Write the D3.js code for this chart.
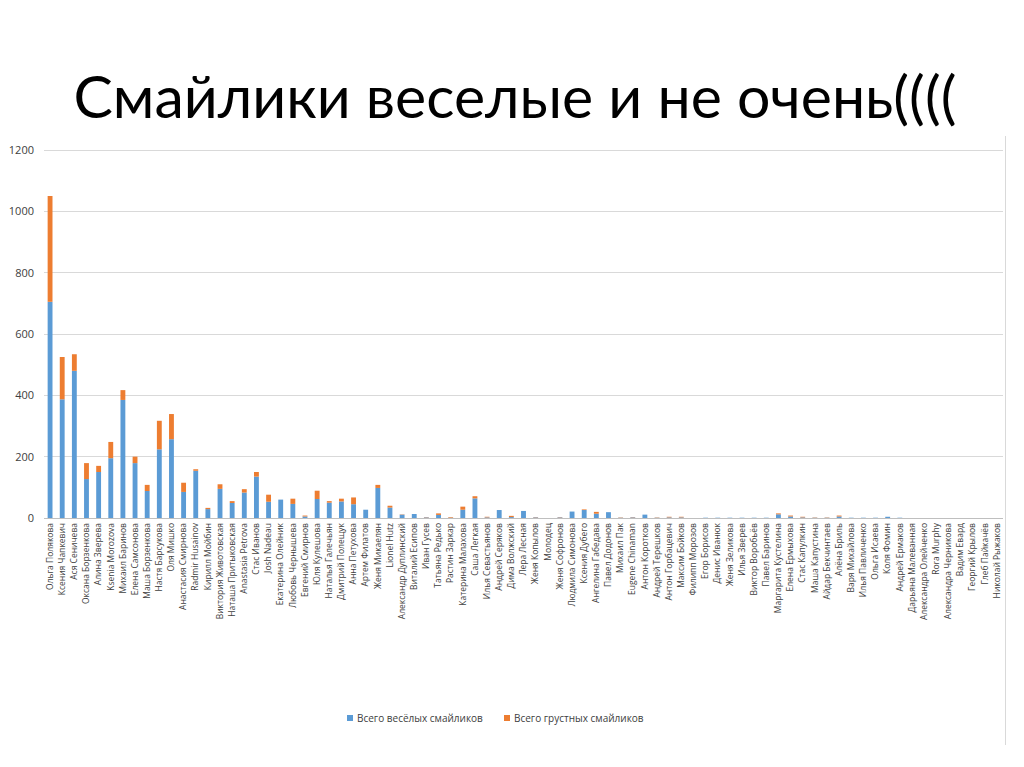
<!DOCTYPE html>
<html><head><meta charset="utf-8">
<script src="https://cdn.jsdelivr.net/npm/d3@7/dist/d3.min.js"></script>
<style>body{margin:0;background:#fff;}svg{display:block;}</style>
</head><body>
<svg id="chart" width="1024" height="767"></svg>
<script>
const categories = ["Ольга Полякова","Ксения Чапкевич","Ася Сеничева","Оксана Борзенкова","Алина Зверева","Ksenia Morozova","Михаил Баринов","Елена Самсонова","Маша Борзенкова","Настя Барсукова","Оля Мишко","Анастасия Смирнова","Radmir Husainov","Кирилл Мойбин","Виктория Животовская","Наташа Притыковская","Anastasia Petrova","Стас Иванов","Josh Nadeau","Екатерина Олейник","Любовь Чернышева","Евгений Смирнов","Юля Кулешова","Наталья Галечьян","Дмитрий Полещук","Анна Петухова","Артем Филатов","Женя Микаелян","Lionel Hutz","Александр Дуплинский","Виталий Есипов","Иван Гусев","Татьяна Редько","Растин Заркар","Катерина Малахова","Саша Легкая","Илья Севастьянов","Андрей Серяков","Дима Волжский","Лера Лесная","Женя Копылов","Молодец","Женя Софронов","Людмила Симонова","Ксения Дубего","Ангелина Габедава","Павел Додонов","Михаил Пак","Eugene Chinaman","Антон Коротков","Андрей Терешков","Антон Горбацевич","Максим Бойков","Филипп Морозов","Егор Борисов","Денис Иванюк","Женя Зеликова","Илья Зверев","Виктор Воробьёв","Павел Баринов","Маргарита Кустелина","Елена Ермыхова","Стас Капулкин","Маша Капустина","Айдар Бекчинтаев","Алёна Бриль","Варя Михайлова","Илья Павличенко","Ольга Исаева","Коля Фомин","Андрей Ермаков","Дарьяна Малеванная","Александра Олейченко","Rora Murphy","Александра Черникова","Вадим Евард","Георгий Крылов","Глеб Пайкачёв","Николай Рыжаков"];
const happy = [705,387,480,127,150,195,385,179,88,224,257,85,154,29,95,49,83,135,53,60,46,5,62,50,54,45,27,98,34,11,13,2,10,1,27,64,2,26,3,23,2,0,2,21,26,14,19,1,2,11,1,2,2,0,1,1,1,1,1,1,12,5,2,1,1,5,1,1,1,4,1,0,0,0,0,0,0,0,0];
const sad   = [345,138,54,52,20,53,32,21,20,93,82,30,5,4,15,6,11,15,23,0,17,3,27,5,9,22,0,10,6,1,0,1,5,2,10,7,2,0,4,0,1,0,1,0,2,6,0,1,1,0,1,2,2,0,0,0,0,0,0,0,3,3,2,1,1,3,0,0,0,0,0,0,0,0,0,0,0,0,0];
const yTicks = [0,200,400,600,800,1000,1200];
const seriesNames = ["Всего весёлых смайликов","Всего грустных смайликов"];
const colors = ["#5b9bd5","#ed7d31"];

const svg = d3.select("#chart");
const font = "Open Sans, Liberation Sans, sans-serif";

svg.append("text").attr("x",515).attr("y",118).attr("text-anchor","middle")
  .style("font-family","Lato, Open Sans, sans-serif").style("font-size","59px").attr("fill","#000")
  .text("Смайлики веселые и не очень((((");

// chart frame right edge
svg.append("line").attr("x1",1005.5).attr("x2",1005.5).attr("y1",136).attr("y2",745)
  .attr("stroke","#d9d9d9").attr("stroke-width",1);

const m = {left:44, right:1003, top:150, bottom:518};
const x = d3.scaleBand().domain(categories).range([m.left,m.right]).paddingInner(0.6).paddingOuter(0.3);
const y = d3.scaleLinear().domain([0,1200]).range([m.bottom,m.top]);

svg.append("g").selectAll("line").data(yTicks).join("line")
  .attr("x1",m.left).attr("x2",m.right).attr("y1",d=>y(d)).attr("y2",d=>y(d))
  .attr("stroke",d=>d===0?"#bfbfbf":"#d9d9d9").attr("stroke-width",1).attr("shape-rendering","crispEdges");

const yAxis = svg.append("g").attr("transform",`translate(${m.left},0)`)
  .call(d3.axisLeft(y).tickValues(yTicks).tickFormat(d3.format("d")).tickSize(0).tickPadding(10));
yAxis.select(".domain").remove();
yAxis.selectAll("text").style("font-family",font).style("font-size","11px").attr("fill","#404040");

const stackData = categories.map((c,i)=>({cat:c, happy:happy[i], sad:sad[i]}));
const stack = d3.stack().keys(["happy","sad"])(stackData);
svg.append("g").selectAll("g").data(stack).join("g").attr("fill",(d,i)=>colors[i])
  .selectAll("rect").data(d=>d).join("rect")
  .attr("x",d=>x(d.data.cat)).attr("width",x.bandwidth())
  .attr("y",d=>y(d[1])).attr("height",d=>Math.max(0,y(d[0])-y(d[1])));

const xAxis = svg.append("g").attr("transform",`translate(0,${m.bottom})`)
  .call(d3.axisBottom(x).tickSize(0).tickPadding(5));
xAxis.select(".domain").remove();
xAxis.selectAll("text").attr("transform","rotate(-90)").attr("text-anchor","end")
  .attr("x",-5).attr("y",0).attr("dy","0.32em")
  .style("font-family",font).style("font-size","8.5px").attr("fill","#404040");

const leg = svg.append("g");
const legX = [347, 504];
seriesNames.forEach((n,i)=>{
  leg.append("rect").attr("x",legX[i]).attr("y",715).attr("width",6).attr("height",6).attr("fill",colors[i]);
  leg.append("text").attr("x",legX[i]+10).attr("y",721.5).text(n)
    .style("font-family",font).style("font-size","10px").attr("fill","#404040");
});
</script>
</body></html>
